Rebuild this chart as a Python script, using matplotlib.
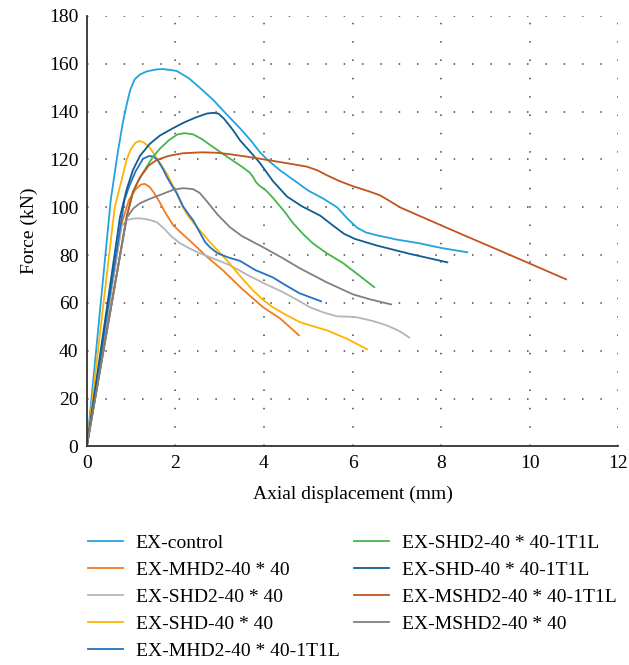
import matplotlib.pyplot as plt

plt.rcParams['font.family'] = ['Liberation Serif', 'DejaVu Serif']

# load-displacement curves (x: mm, y: kN)
ctrl_x = [0, 0.54, 0.7, 0.81, 0.9, 0.98, 1.08, 1.2, 1.35, 1.55, 1.72, 1.9, 2.03, 2.3, 2.55, 2.85, 3.15, 3.46,
          3.7, 3.91, 4.1, 4.36, 4.7, 5.0, 5.35, 5.65, 5.9, 6.1, 6.3, 6.55, 7.0, 7.5, 8.0, 8.59]
ctrl_y = [0, 103, 123, 135, 143, 149, 153.5, 155.5, 156.8, 157.6, 157.8, 157.4, 157, 154, 150, 145, 139, 133,
          128, 123, 119.5, 115.5, 111, 107, 103.5, 100, 95, 91.5, 89.5, 88.3, 86.5, 85, 83, 81.2]

mhd2_x = [0, 0.8, 0.95, 1.1, 1.22, 1.31, 1.42, 1.52, 1.65, 1.78, 1.95, 2.15, 2.33, 2.7, 3.07, 3.5, 3.98, 4.36, 4.79]
mhd2_y = [0, 94, 103, 107.5, 109.5, 109.8, 108.5, 106, 102, 97.5, 92.5, 89, 86, 79.5, 73.7, 66, 58.2, 53.6, 46.5]

shd2_x = [0, 0.78, 0.9, 1.05, 1.2, 1.4, 1.58, 1.75, 1.9, 2.1, 2.3, 2.55, 2.9, 3.23, 3.6, 3.98, 4.43, 4.75,
          5.04, 5.35, 5.65, 5.9, 6.1, 6.45, 6.78, 7.05, 7.28]
shd2_y = [0, 92, 94.6, 95.3, 95.4, 94.8, 93.8, 91, 88, 85, 83, 80.8, 78.3, 75.8, 72, 68.4, 64.5, 61.3,
          58.2, 56, 54.4, 54.3, 54, 52.5, 50.6, 48.3, 45.6]

shd_x = [0, 0.63, 0.78, 0.9, 1.0, 1.1, 1.18, 1.28, 1.42, 1.6, 1.81, 2.0, 2.17, 2.3, 2.49, 2.8, 3.16, 3.45,
         3.75, 4.0, 4.2, 4.5, 4.81, 5.1, 5.42, 5.9, 6.33]
shd_y = [0, 100, 111, 120, 124.5, 127, 127.7, 127.2, 125, 120, 114, 107, 100, 96, 91.7, 85, 77.9, 71.5,
         65.3, 61, 58.2, 55, 52, 50.3, 48.6, 44.8, 40.6]

mhd2l_x = [0, 0.85, 0.95, 1.1, 1.27, 1.4, 1.5, 1.6, 1.72, 1.81, 1.94, 2.03, 2.17, 2.3, 2.4, 2.55, 2.67, 2.78,
           2.95, 3.2, 3.46, 3.8, 4.2, 4.5, 4.81, 5.29]
mhd2l_y = [0, 103, 108.5, 115, 120.3, 121.4, 121.3, 119.7, 116, 112.6, 108.5, 106, 100.5, 97, 94.6, 89.5, 85.5, 83.3,
           80.8, 79, 77.6, 73.8, 70.7, 67.3, 64, 60.7]

shd2l_x = [0, 0.9, 1.04, 1.15, 1.27, 1.49, 1.65, 1.85, 2.05, 2.21, 2.4, 2.6, 2.85, 3.1, 3.3, 3.5, 3.68, 3.76,
           3.82, 3.9, 4.05, 4.2, 4.45, 4.66, 4.9, 5.1, 5.4, 5.79, 6.15, 6.49]
shd2l_y = [0, 96, 106, 110.5, 114.5, 121, 124.5, 128, 130.5, 131, 130.5, 128.5, 125.2, 122, 119.5, 117, 114.5, 112.5,
           110.5, 109, 107, 104, 98.5, 93.3, 88.5, 85, 81, 76.6, 71.5, 66.6]

shdl_x = [0, 0.75, 0.9, 1.04, 1.2, 1.42, 1.65, 1.94, 2.2, 2.45, 2.71, 2.85, 2.97, 3.1, 3.3, 3.46, 3.7, 3.91,
          4.2, 4.52, 4.85, 5.27, 5.55, 5.8, 6.05, 6.55, 7.3, 8.14]
shdl_y = [0, 96, 107.5, 115.5, 121.5, 126.5, 130, 133, 135.5, 137.5, 139.2, 139.5, 139.2, 137, 132.3, 128, 123, 118.5,
          111, 104.5, 100.5, 96.5, 92.5, 89, 86.8, 84, 80.5, 77]

mshd2l_x = [0, 0.9, 1.04, 1.2, 1.4, 1.58, 1.85, 2.17, 2.6, 2.94, 3.23, 3.6, 3.91, 4.5, 4.97, 5.2, 5.42, 5.7,
            6.01, 6.35, 6.62, 6.85, 7.07, 7.5, 8.43, 9.5, 10.82]
mshd2l_y = [0, 96, 106.5, 112.5, 117.5, 119.8, 121.5, 122.6, 123, 122.8, 122.2, 121.2, 120.3, 118.5, 117, 115.5, 113.4, 111,
            108.8, 106.8, 105, 102.5, 100, 96.5, 89, 80.5, 69.9]

mshd2_x = [0, 0.9, 1.05, 1.2, 1.42, 1.7, 1.95, 2.17, 2.4, 2.55, 2.71, 2.95, 3.23, 3.5, 3.98, 4.4, 4.81, 5.42,
           6.01, 6.4, 6.87]
mshd2_y = [0, 95.5, 99.5, 101.7, 103.5, 105.5, 107.3, 108, 107.6, 106, 102.5, 97, 91.7, 88, 83.3, 79, 74.5, 68.6,
           63.6, 61.5, 59.4]

fig = plt.figure(figsize=(6.29, 6.65), dpi=100)
ax = fig.add_axes([0.138, 0.3286, 0.845, 0.6474])

lw = 1.3
ax.plot(ctrl_x, ctrl_y, color='#22a3dd', lw=lw, label='EX-control')
ax.plot(mhd2_x, mhd2_y, color='#f47a22', lw=lw, label='EX-MHD2-40 * 40')
ax.plot(shd2_x, shd2_y, color='#b5b5b5', lw=lw, label='EX-SHD2-40 * 40')
ax.plot(shd_x, shd_y, color='#ffb300', lw=lw, label='EX-SHD-40 * 40')
ax.plot(mhd2l_x, mhd2l_y, color='#2272c3', lw=lw, label='EX-MHD2-40 * 40-1T1L')
ax.plot(shd2l_x, shd2l_y, color='#45b649', lw=lw, label='EX-SHD2-40 * 40-1T1L')
ax.plot(shdl_x, shdl_y, color='#105d90', lw=lw, label='EX-SHD-40 * 40-1T1L')
ax.plot(mshd2l_x, mshd2l_y, color='#c2541e', lw=lw, label='EX-MSHD2-40 * 40-1T1L')
ax.plot(mshd2_x, mshd2_y, color='#808080', lw=lw, label='EX-MSHD2-40 * 40')

ax.set_xlim(0, 12)
ax.set_ylim(0, 180)
ax.set_xticks(range(0, 13, 2))
ax.set_yticks(range(0, 181, 20))
ax.grid(True, color='#444444', linestyle=(0, (1, 11)), linewidth=1.1)
ax.tick_params(length=0, labelsize=14, pad=6)
for s in ['top', 'right']:
    ax.spines[s].set_visible(False)
for s in ['left', 'bottom']:
    ax.spines[s].set_color('#333333')
    ax.spines[s].set_linewidth(1.3)

ax.set_xlabel('Axial displacement (mm)', fontsize=14, labelpad=10)
ax.set_ylabel('Force (kN)', fontsize=14, labelpad=8)

fig.legend(loc='upper left', bbox_to_anchor=(0.1114, 0.223), ncol=2, frameon=False,
           fontsize=14, handlelength=1.8, handletextpad=0.67, columnspacing=0.77,
           labelspacing=0.48)

fig.savefig('out.png', dpi=100)
